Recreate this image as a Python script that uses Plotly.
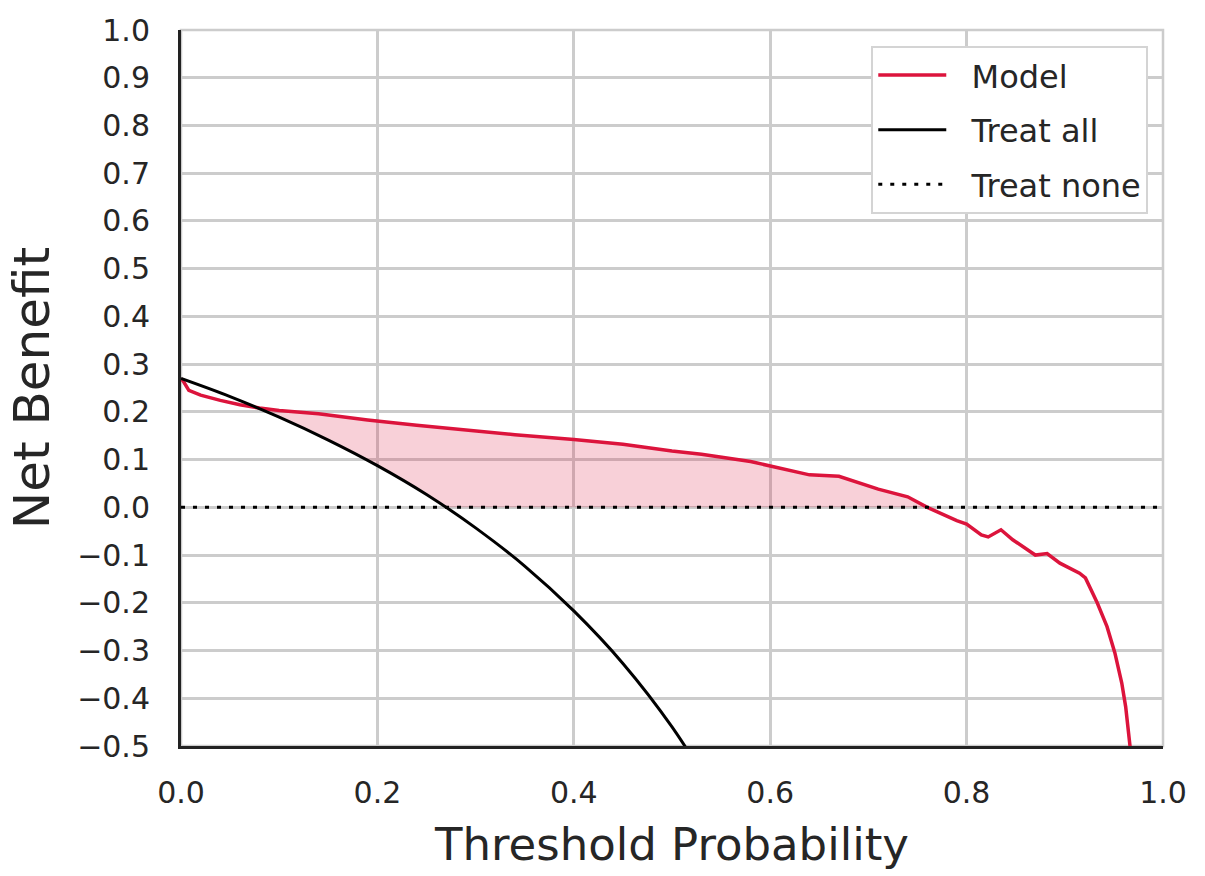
import numpy as np
import plotly.graph_objects as go

# ---- data ----
model_pt = [0.0, 0.003, 0.008, 0.02, 0.04, 0.06, 0.08, 0.10, 0.14, 0.19, 0.24, 0.29,
            0.34, 0.40, 0.45, 0.50, 0.53, 0.58, 0.60, 0.64, 0.67, 0.71, 0.74, 0.76,
            0.79, 0.80, 0.815, 0.822, 0.835, 0.847, 0.865, 0.870, 0.882, 0.895,
            0.915, 0.921, 0.933, 0.943, 0.951, 0.958, 0.962, 0.966, 0.968]
model_nb = [0.27, 0.262, 0.245, 0.235, 0.224, 0.215, 0.208, 0.203, 0.196, 0.183, 0.172, 0.162,
            0.152, 0.142, 0.132, 0.118, 0.111, 0.096, 0.087, 0.068, 0.065, 0.038, 0.022, 0.0,
            -0.028, -0.035, -0.058, -0.062, -0.047, -0.068, -0.093, -0.100, -0.097, -0.117,
            -0.138, -0.148, -0.20, -0.25, -0.305, -0.368, -0.418, -0.493, -0.53]

all_pt = [0.0, 0.05, 0.10, 0.15, 0.20, 0.25, 0.30, 0.35, 0.40, 0.45, 0.50, 0.55]
all_nb = [0.27, 0.232, 0.189, 0.141, 0.0875, 0.027, -0.043, -0.123, -0.217, -0.327, -0.46, -0.622]

none_pt = [0.0, 1.0]
none_nb = [0.0, 0.0]

series_names = ["Model", "Treat all", "Treat none"]
x_ticks = [0.0, 0.2, 0.4, 0.6, 0.8, 1.0]
y_ticks = [round(-0.5 + 0.1 * i, 1) for i in range(16)]

CRIMSON = "#DC143C"
FONT = "DejaVu Sans"
TXT = "#262626"
PAD = "\u00a0\u00a0"

# fill region: between model and max(treat all, treat none)
fine_pt = np.linspace(0, 0.9, 901)
m_f = np.interp(fine_pt, model_pt, model_nb)
a_f = np.interp(fine_pt, all_pt, all_nb)
lower = np.maximum(a_f, 0.0)
upper = np.maximum(m_f, lower)

fig = go.Figure()

fig.add_trace(go.Scatter(x=fine_pt, y=lower, mode="lines", line=dict(width=0),
                         showlegend=False, hoverinfo="skip"))
fig.add_trace(go.Scatter(x=fine_pt, y=upper, mode="lines", line=dict(width=0),
                         fill="tonexty", fillcolor="rgba(220,20,60,0.2)",
                         showlegend=False, hoverinfo="skip"))

fig.add_trace(go.Scatter(x=model_pt, y=model_nb, mode="lines", name=PAD + series_names[0],
                         line=dict(color=CRIMSON, width=3.5), legendgroup="a"))
fig.add_trace(go.Scatter(x=all_pt, y=all_nb, mode="lines", name=PAD + series_names[1],
                         line=dict(color="black", width=3, shape="spline"), legendgroup="b"))
fig.add_trace(go.Scatter(x=none_pt, y=none_nb, mode="lines", name=PAD + series_names[2],
                         line=dict(color="black", width=3, dash="4px,8px"), legendgroup="c"))

fig.update_layout(
    width=1205, height=876,
    margin=dict(l=181, r=42, t=28, b=130),
    paper_bgcolor="white", plot_bgcolor="white",
    font=dict(family=FONT, color=TXT, size=29),
    legend=dict(x=0.985, y=0.978, xanchor="right", yanchor="top",
                bgcolor="white", bordercolor="#d4d4d4", borderwidth=2,
                font=dict(size=32, color=TXT), traceorder="grouped",
                tracegroupgap=10, itemwidth=68),
    showlegend=True,
)

fig.update_xaxes(range=[0, 1], tickvals=x_ticks, tickformat=".1f",
                 showgrid=True, gridcolor="#cccccc", gridwidth=2.5,
                 showline=True, linecolor="#222222", linewidth=3,
                 zeroline=False, ticks="", ticklen=0, ticklabelstandoff=18,
                 title=dict(text="Threshold Probability", font=dict(size=45, color=TXT), standoff=20),
                 tickfont=dict(size=30, color=TXT))
fig.update_yaxes(range=[-0.5, 1.0], tickvals=y_ticks, tickformat=".1f",
                 showgrid=True, gridcolor="#cccccc", gridwidth=2.5,
                 showline=True, linecolor="#222222", linewidth=3,
                 zeroline=False, ticks="", ticklabelstandoff=22,
                 title=dict(text="Net Benefit", font=dict(size=50, color=TXT), standoff=12),
                 tickfont=dict(size=30, color=TXT))

# light frame on top/right (seaborn style)
fig.add_shape(type="rect", xref="paper", yref="paper", x0=0, y0=0, x1=1, y1=1,
              line=dict(color="#cccccc", width=2.5), layer="below")

fig.write_html("out.html")
